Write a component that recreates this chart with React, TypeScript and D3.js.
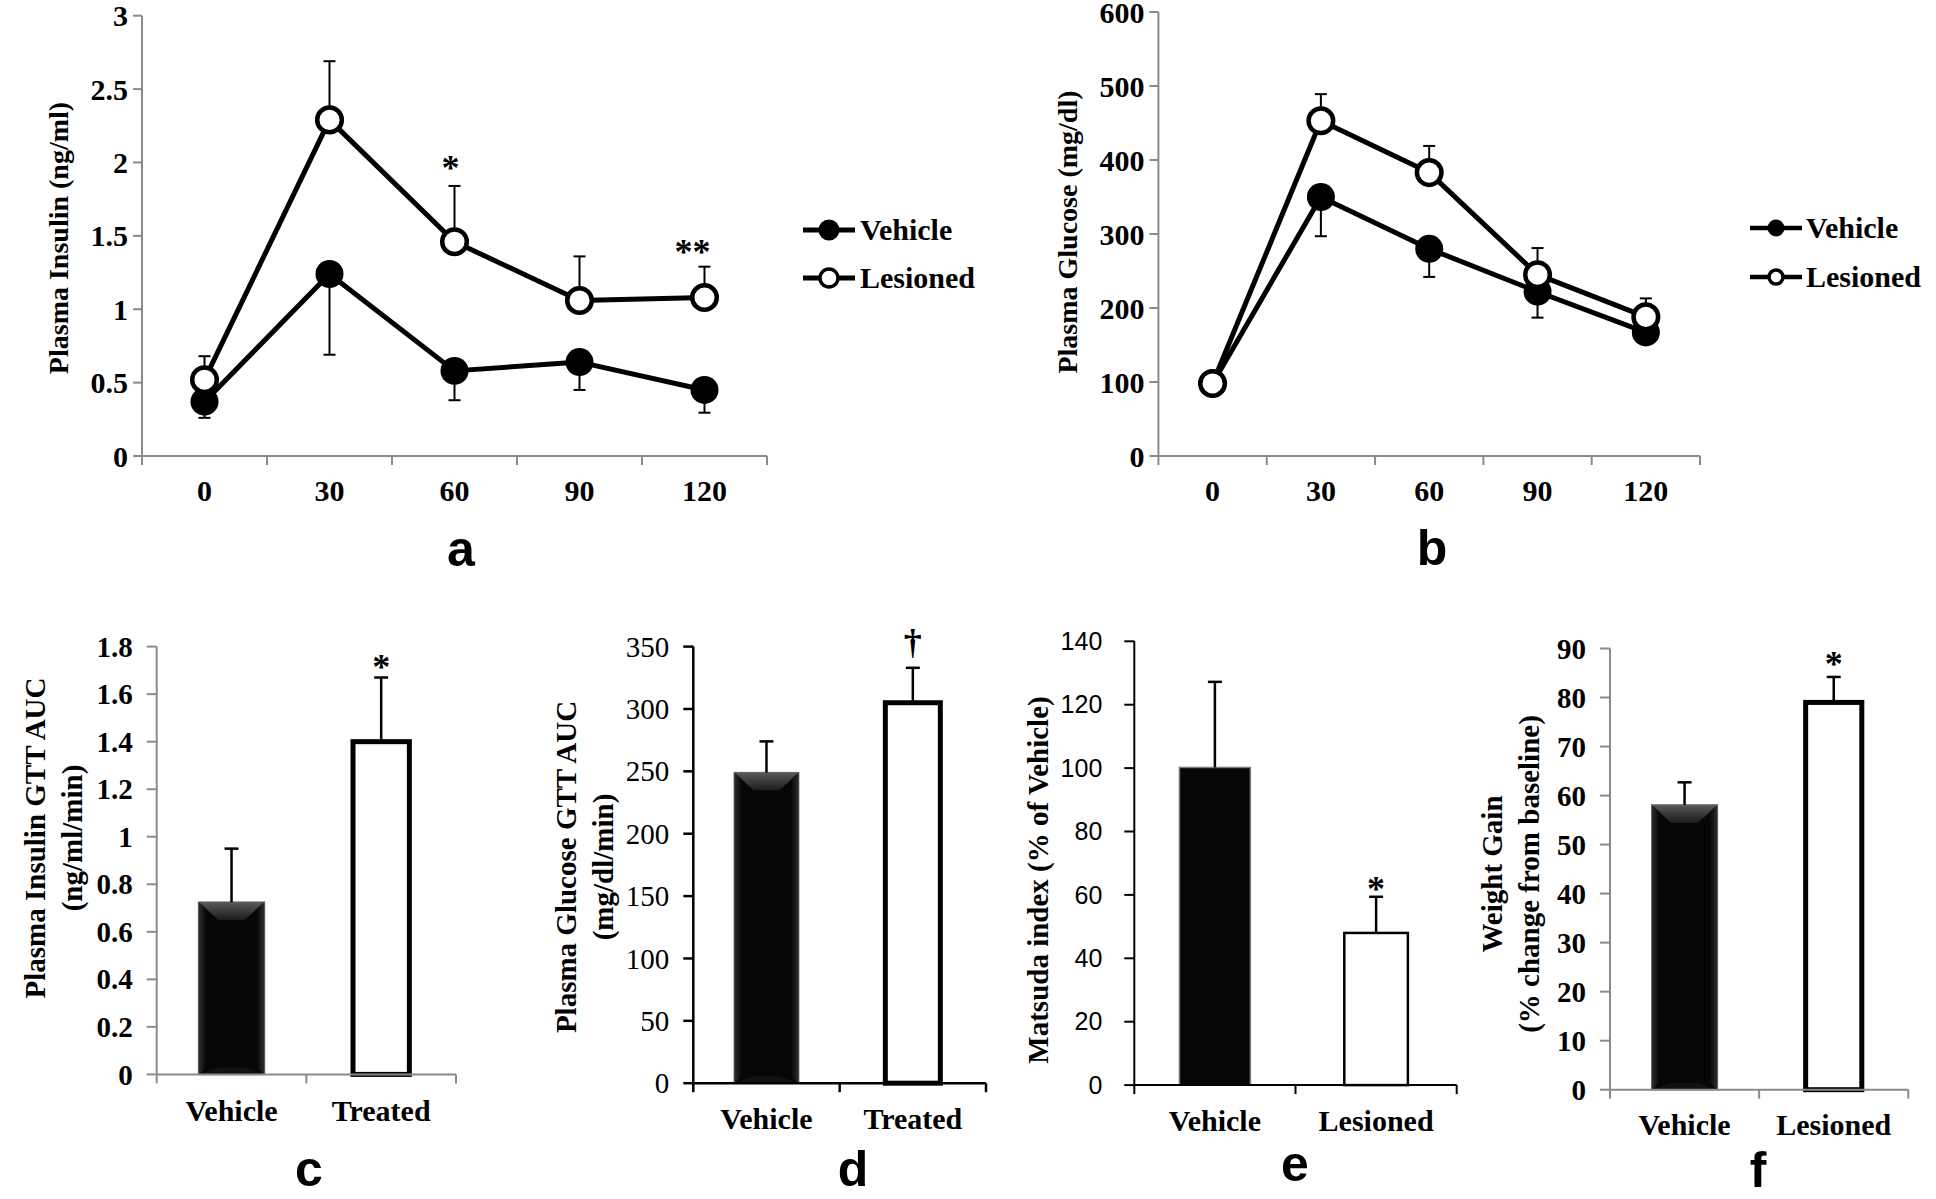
import React from "react";
import * as d3 from "d3";

// ---------- DATA ----------
const timePoints = ["0", "30", "60", "90", "120"];

const insulinVehicle = [0.37, 1.24, 0.58, 0.64, 0.45];
const insulinVehicleErr = [0.11, 0.55, 0.2, 0.19, 0.155];
const insulinLesioned = [0.52, 2.29, 1.46, 1.06, 1.08];
const insulinLesionedErr = [0.16, 0.4, 0.38, 0.3, 0.21];
const insulinTicks = [0, 0.5, 1, 1.5, 2, 2.5, 3];
const insulinSig = ["", "", "*", "", "**"];

const glucoseVehicle = [98, 350, 280, 222, 167];
const glucoseVehicleErr = [4, 53, 38, 35, 12];
const glucoseLesioned = [98, 453, 383, 245, 188];
const glucoseLesionedErr = [4, 36, 36, 36, 25];
const glucoseTicks = [0, 100, 200, 300, 400, 500, 600];
const glucoseSig = ["", "", "", "", ""];

const legendLabels = ["Vehicle", "Lesioned"];

const aucCats = ["Vehicle", "Treated"];
const insulinAuc = [0.725, 1.4];
const insulinAucErr = [0.225, 0.27];
const insulinAucTicks = [0, 0.2, 0.4, 0.6, 0.8, 1, 1.2, 1.4, 1.6, 1.8];
const insulinAucSig = ["", "*"];

const glucoseAuc = [249, 305];
const glucoseAucErr = [25, 28];
const glucoseAucTicks = [0, 50, 100, 150, 200, 250, 300, 350];
const glucoseAucSig = ["", "\u2020"];

const lesionCats = ["Vehicle", "Lesioned"];
const matsuda = [100.2, 48];
const matsudaErr = [27, 11.4];
const matsudaTicks = [0, 20, 40, 60, 80, 100, 120, 140];
const matsudaSig = ["", "*"];

const weightGain = [58.1, 79];
const weightGainErr = [4.6, 5.2];
const weightTicks = [0, 10, 20, 30, 40, 50, 60, 70, 80, 90];
const weightSig = ["", "*"];

// ---------- STYLE ----------
const SERIF = "'Liberation Serif', 'Times New Roman', serif";
const SANS = "'Liberation Sans', Arial, sans-serif";
const GRAY = "#8a8a8a";

function RotTitle({ lines, x, y, gap, size }) {
  const n = lines.length;
  return (
    <g>
      {lines.map((t, i) => (
        <text
          key={i}
          transform={`translate(${x + (i - (n - 1) / 2) * gap},${y}) rotate(-90)`}
          textAnchor="middle"
          dy="0.35em"
          fontFamily={SERIF}
          fontWeight="bold"
          fontSize={size}
          fill="#000"
        >
          {t}
        </text>
      ))}
    </g>
  );
}

function LinePanel(p) {
  const x = d3.scaleBand().domain(timePoints).range([p.x0, p.x1]);
  const y = d3.scaleLinear().domain([0, p.max]).range([p.yBot, p.yTop]);
  const cx = (i) => x(timePoints[i]) + x.bandwidth() / 2;
  const line = d3
    .line<number>()
    .x((_, i) => cx(i))
    .y((d) => y(d));
  const edges = timePoints.map((t) => x(t)).concat([p.x1]);
  return (
    <g>
      {/* axes */}
      <line x1={p.x0} x2={p.x0} y1={p.yTop} y2={p.yBot} stroke={GRAY} strokeWidth={2} />
      <line x1={p.x0} x2={p.x1} y1={p.yBot} y2={p.yBot} stroke={GRAY} strokeWidth={2} />
      {p.ticks.map((t) => (
        <g key={t}>
          <line x1={p.x0 - 9} x2={p.x0} y1={y(t)} y2={y(t)} stroke={GRAY} strokeWidth={2} />
          <text x={p.x0 - 14} y={y(t)} dy="0.35em" textAnchor="end" fontFamily={SERIF} fontWeight="bold" fontSize={30}>
            {String(t)}
          </text>
        </g>
      ))}
      {edges.map((e, i) => (
        <line key={i} x1={e} x2={e} y1={p.yBot} y2={p.yBot + 9} stroke={GRAY} strokeWidth={2} />
      ))}
      {timePoints.map((t, i) => (
        <text key={t} x={cx(i)} y={p.yBot + 45} textAnchor="middle" fontFamily={SERIF} fontWeight="bold" fontSize={30}>
          {t}
        </text>
      ))}
      <RotTitle lines={[p.title]} x={p.titleX} y={p.titleY} gap={0} size={28} />
      {/* error bars */}
      {p.vehicle.map((v, i) => {
        const y0 = y(v), y1 = y(v - p.vehicleErr[i]);
        return (
          <g key={"ve" + i}>
            <line x1={cx(i)} x2={cx(i)} y1={y0} y2={y1} stroke="#000" strokeWidth={2} />
            <line x1={cx(i) - 6} x2={cx(i) + 6} y1={y1} y2={y1} stroke="#000" strokeWidth={2} />
          </g>
        );
      })}
      {p.lesioned.map((v, i) => {
        const y0 = y(v), y1 = y(v + p.lesionedErr[i]);
        return (
          <g key={"le" + i}>
            <line x1={cx(i)} x2={cx(i)} y1={y0} y2={y1} stroke="#000" strokeWidth={2} />
            <line x1={cx(i) - 6} x2={cx(i) + 6} y1={y1} y2={y1} stroke="#000" strokeWidth={2} />
          </g>
        );
      })}
      {/* lines */}
      <path d={line(p.vehicle) || ""} fill="none" stroke="#000" strokeWidth={5} strokeLinejoin="round" />
      <path d={line(p.lesioned) || ""} fill="none" stroke="#000" strokeWidth={5} strokeLinejoin="round" />
      {p.vehicle.map((v, i) => (
        <circle key={"vm" + i} cx={cx(i)} cy={y(v)} r={14} fill="#000" />
      ))}
      {p.lesioned.map((v, i) => (
        <circle key={"lm" + i} cx={cx(i)} cy={y(v)} r={12.3} fill="#fff" stroke="#000" strokeWidth={4.5} />
      ))}
      {/* significance */}
      {p.sig.map((s, i) =>
        s ? (
          <text key={"s" + i} x={cx(i) + p.sigDx[i]} y={y(p.lesioned[i] + p.lesionedErr[i]) - p.sigGap[i]} textAnchor="middle" fontFamily={SERIF} fontWeight="bold" fontSize={36}>
            {s}
          </text>
        ) : null
      )}
      {/* legend */}
      {legendLabels.map((lab, i) => {
        const ly = i === 0 ? p.legend.y1 : p.legend.y2;
        return (
          <g key={lab}>
            <line x1={p.legend.x} x2={p.legend.x + 52} y1={ly} y2={ly} stroke="#000" strokeWidth={p.legend.sw} />
            {i === 0 ? (
              <circle cx={p.legend.x + 26} cy={ly} r={p.legend.r} fill="#000" />
            ) : (
              <circle cx={p.legend.x + 26} cy={ly} r={p.legend.r - 1.5} fill="#fff" stroke="#000" strokeWidth={3.5} />
            )}
            <text x={p.legend.textX} y={ly} dy="0.33em" fontFamily={SERIF} fontWeight="bold" fontSize={30}>
              {lab}
            </text>
          </g>
        );
      })}
      <text x={p.letterX} y={p.letterY} textAnchor="middle" fontFamily={SANS} fontWeight="bold" fontSize={50}>
        {p.letter}
      </text>
    </g>
  );
}

function BevelBar({ x, y, w, h }) {
  const ins = Math.min(w * 0.3, h * 0.5);
  const d = Math.min(18, h * 0.3);
  return (
    <g>
      <rect x={x} y={y} width={w} height={h} fill="#060606" stroke="#7a7a7a" strokeWidth={1.5} />
      <polygon points={`${x},${y} ${x + w},${y} ${x + w - ins},${y + d} ${x + ins},${y + d}`} fill="url(#bevTop)" />
      <polygon points={`${x},${y} ${x + 7},${y + 6} ${x + 7},${y + h - 6} ${x},${y + h}`} fill="url(#bevL)" />
      <polygon points={`${x + w},${y} ${x + w - 7},${y + 6} ${x + w - 7},${y + h - 6} ${x + w},${y + h}`} fill="url(#bevR)" />
      <polygon points={`${x},${y + h} ${x + w},${y + h} ${x + w - ins},${y + h - 7} ${x + ins},${y + h - 7}`} fill="#121212" />
    </g>
  );
}

function BarPanel(p) {
  const x = d3.scaleBand().domain(p.cats).range([p.x0, p.x1]);
  const y = d3.scaleLinear().domain([0, p.max]).range([p.yBot, p.yTop]);
  const bw = x.bandwidth();
  const cx = (i) => x(p.cats[i]) + bw / 2;
  const edges = p.cats.map((c) => x(c)).concat([p.x1]);
  const axisColor = p.axisColor;
  return (
    <g>
      {/* bars */}
      {p.values.map((v, i) => {
        if (i === 0) {
          const w = bw * 0.44;
          return p.bevel ? (
            <BevelBar key={i} x={cx(i) - w / 2} y={y(v)} w={w} h={y(0) - y(v)} />
          ) : (
            <rect key={i} x={cx(i) - w / 2} y={y(v)} width={w} height={y(0) - y(v)} fill="#060606" stroke="#7a7a7a" strokeWidth={1.5} />
          );
        }
        const ow = bw * p.openFrac;
        const sw = p.openStroke;
        return (
          <rect key={i} x={cx(i) - ow / 2 + sw / 2} y={y(v)} width={ow - sw} height={y(0) - y(v)} fill="#fff" stroke="#000" strokeWidth={sw} />
        );
      })}
      {/* error bars */}
      {p.values.map((v, i) => {
        const y0 = y(v), y1 = y(v + p.errs[i]);
        return (
          <g key={"e" + i}>
            <line x1={cx(i)} x2={cx(i)} y1={y0} y2={y1} stroke="#000" strokeWidth={2.5} />
            <line x1={cx(i) - 7} x2={cx(i) + 7} y1={y1} y2={y1} stroke="#000" strokeWidth={2.5} />
          </g>
        );
      })}
      {p.sig.map((s, i) =>
        s ? (
          <text key={"s" + i} x={cx(i)} y={y(p.values[i] + p.errs[i]) - p.sigGap} textAnchor="middle" fontFamily={SERIF} fontWeight="bold" fontSize={36}>
            {s}
          </text>
        ) : null
      )}
      {/* axes */}
      <line x1={p.x0} x2={p.x0} y1={p.yTop} y2={p.yBot} stroke={axisColor} strokeWidth={p.axisW} />
      <line x1={p.x0} x2={p.x1} y1={p.yBot} y2={p.yBot} stroke={axisColor} strokeWidth={p.axisW} />
      {p.ticks.map((t) => (
        <g key={t}>
          <line x1={p.x0 - 10} x2={p.x0} y1={y(t)} y2={y(t)} stroke={axisColor} strokeWidth={p.axisW} />
          <text x={p.x0 - p.tickGap} y={y(t)} dy="0.35em" textAnchor="end" fontFamily={p.tickFont} fontWeight={p.tickWeight} fontSize={p.tickSize}>
            {String(t)}
          </text>
        </g>
      ))}
      {edges.map((e, i) => (
        <line key={i} x1={e} x2={e} y1={p.yBot} y2={p.yBot + 9} stroke={axisColor} strokeWidth={p.axisW} />
      ))}
      {p.cats.map((c, i) => (
        <text key={c} x={cx(i)} y={p.catY} dy="0.35em" textAnchor="middle" fontFamily={SERIF} fontWeight="bold" fontSize={30}>
          {c}
        </text>
      ))}
      <RotTitle lines={p.title} x={p.titleX} y={p.titleY} gap={37} size={29} />
      <text x={p.letterX} y={p.letterY} textAnchor="middle" fontFamily={SANS} fontWeight="bold" fontSize={50}>
        {p.letter}
      </text>
    </g>
  );
}

export default function App() {
  return (
    <svg
      width={1936}
      height={1199}
      viewBox="0 0 1936 1199"
      style={{ position: "absolute", left: 0, top: 0, background: "#fff" }}
    >
      <defs>
        <linearGradient id="bevTop" x1="0" y1="0" x2="0" y2="1">
          <stop offset="0" stopColor="#5a5a5a" />
          <stop offset="1" stopColor="#1a1a1a" />
        </linearGradient>
        <linearGradient id="bevL" x1="0" y1="0" x2="1" y2="0">
          <stop offset="0" stopColor="#2e2e2e" />
          <stop offset="1" stopColor="#0a0a0a" />
        </linearGradient>
        <linearGradient id="bevR" x1="1" y1="0" x2="0" y2="0">
          <stop offset="0" stopColor="#2e2e2e" />
          <stop offset="1" stopColor="#0a0a0a" />
        </linearGradient>
      </defs>
      <rect x={0} y={0} width={1936} height={1199} fill="#fff" />

      <LinePanel
        x0={142} x1={767} yTop={15.7} yBot={456} max={3} ticks={insulinTicks}
        vehicle={insulinVehicle} vehicleErr={insulinVehicleErr}
        lesioned={insulinLesioned} lesionedErr={insulinLesionedErr}
        sig={insulinSig} sigDx={[0, 0, -4, 0, -12]} sigGap={[0, 0, 6, 0, 3]}
        title="Plasma Insulin (ng/ml)" titleX={58} titleY={238}
        legend={{ x: 803, y1: 230, y2: 278, r: 10.5, textX: 860, sw: 5 }}
        letter="a" letterX={461} letterY={566}
      />
      <LinePanel
        x0={1158.4} x1={1700} yTop={12} yBot={456} max={600} ticks={glucoseTicks}
        vehicle={glucoseVehicle} vehicleErr={glucoseVehicleErr}
        lesioned={glucoseLesioned} lesionedErr={glucoseLesionedErr}
        sig={glucoseSig} sigDx={[0, 0, 0, 0, 0]} sigGap={[0, 0, 0, 0, 0]}
        title="Plasma Glucose (mg/dl)" titleX={1067} titleY={232}
        legend={{ x: 1750, y1: 228, y2: 277, r: 8.5, textX: 1806, sw: 4.5 }}
        letter="b" letterX={1432} letterY={565}
      />

      <BarPanel
        cats={aucCats} values={insulinAuc} errs={insulinAucErr} sig={insulinAucSig} sigGap={-2}
        x0={156.7} x1={456} yTop={646.6} yBot={1074.4} max={1.8} ticks={insulinAucTicks}
        axisColor={GRAY} axisW={2} tickFont={SERIF} tickWeight="bold" tickSize={29} tickGap={24}
        bevel={true} openFrac={0.41} openStroke={5}
        catY={1110} title={["Plasma Insulin GTT AUC", "(ng/ml/min)"]} titleX={53} titleY={838}
        letter="c" letterX={309} letterY={1186}
      />
      <BarPanel
        cats={aucCats} values={glucoseAuc} errs={glucoseAucErr} sig={glucoseAucSig} sigGap={14}
        x0={693.3} x1={986} yTop={646.6} yBot={1083.2} max={350} ticks={glucoseAucTicks}
        axisColor="#000" axisW={2.5} tickFont={SERIF} tickWeight="normal" tickSize={29} tickGap={24}
        bevel={true} openFrac={0.41} openStroke={5}
        catY={1118} title={["Plasma Glucose GTT AUC", "(mg/dl/min)"]} titleX={584} titleY={867}
        letter="d" letterX={853} letterY={1186}
      />
      <BarPanel
        cats={lesionCats} values={matsuda} errs={matsudaErr} sig={matsudaSig} sigGap={-4}
        x0={1134.3} x1={1456.7} yTop={641.3} yBot={1085.1} max={140} ticks={matsudaTicks}
        axisColor="#000" axisW={2} tickFont={SANS} tickWeight="normal" tickSize={25} tickGap={32}
        bevel={false} openFrac={0.41} openStroke={2.5}
        catY={1120} title={["Matsuda index (% of Vehicle)"]} titleX={1038} titleY={880}
        letter="e" letterX={1295} letterY={1181}
      />
      <BarPanel
        cats={lesionCats} values={weightGain} errs={weightGainErr} sig={weightSig} sigGap={1}
        x0={1610} x1={1908.3} yTop={648.5} yBot={1089.7} max={90} ticks={weightTicks}
        axisColor={GRAY} axisW={2} tickFont={SERIF} tickWeight="bold" tickSize={29} tickGap={24}
        bevel={true} openFrac={0.41} openStroke={5}
        catY={1124} title={["Weight Gain", "(% change from baseline)"]} titleX={1510} titleY={874}
        letter="f" letterX={1758} letterY={1187}
      />
    </svg>
  );
}
